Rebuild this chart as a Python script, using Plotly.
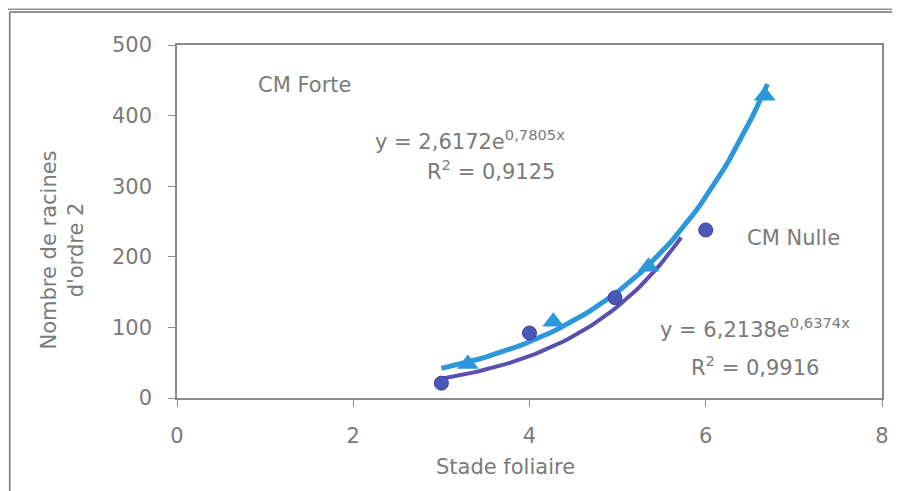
import numpy as np
import plotly.graph_objects as go

# points
stade_nulle = [3.0, 4.0, 4.97, 6.0]
racines_nulle = [21, 92, 142, 238]

stade_forte = [3.3, 4.27, 5.35, 6.67]
racines_forte = [48, 108, 186, 428]

# fitted trend curves, as printed on the chart
fit_a, fit_b = 6.2138, 0.6374      # light blue curve
fit_c, fit_d = 2.6172, 0.7805      # dark curve
x_light = np.linspace(3.0, 6.7, 60)
x_dark = np.linspace(3.0, 5.72, 60)

blue = "#2b98dc"
purple = "#5a4fb0"
grey = "#7a7a7a"
font = "DejaVu Sans"

fig = go.Figure()
fig.add_trace(go.Scatter(x=x_dark, y=fit_c * np.exp(fit_d * x_dark), mode="lines",
                         line=dict(color=purple, width=4), hoverinfo="skip"))
fig.add_trace(go.Scatter(x=x_light, y=fit_a * np.exp(fit_b * x_light), mode="lines",
                         line=dict(color=blue, width=5), hoverinfo="skip"))
fig.add_trace(go.Scatter(x=stade_nulle, y=racines_nulle, mode="markers",
                         marker=dict(symbol="circle", size=14, color="#4b58b8",
                                     line=dict(color="#3a3f9a", width=1))))
fig.add_trace(go.Scatter(x=stade_forte, y=racines_forte, mode="markers",
                         marker=dict(symbol="triangle-up", size=19, color=blue)))

annots = [
    dict(x=1.45, y=443, text="CM Forte"),
    dict(x=3.33, y=365, text="y = 2,6172e<sup>0,7805x</sup>"),
    dict(x=3.56, y=323, text="R<sup>2</sup> = 0,9125"),
    dict(x=7.0, y=227, text="CM Nulle"),
    dict(x=6.56, y=99, text="y = 6,2138e<sup>0,6374x</sup>"),
    dict(x=6.56, y=45, text="R<sup>2</sup> = 0,9916"),
]
for a in annots:
    fig.add_annotation(x=a["x"], y=a["y"], text=a["text"], showarrow=False,
                       font=dict(family=font, size=21, color=grey))

axis = dict(showline=True, linecolor="#8a8a8a", linewidth=1.5, mirror=True,
            showgrid=False, zeroline=False, ticks="outside", ticklen=7,
            tickcolor="#8a8a8a", tickfont=dict(family=font, size=21, color=grey))

fig.update_xaxes(range=[0, 8], tickvals=[0, 2, 4, 6, 8], ticklabelstandoff=11, **axis)
fig.update_yaxes(range=[0, 500], tickvals=[0, 100, 200, 300, 400, 500], ticklabelstandoff=12, **axis)

# axis titles placed as in the scan (y title sits below the plot centre)
fig.add_annotation(xref="paper", yref="paper", x=0.466, y=-0.195, text="Stade foliaire",
                   xanchor="center", yanchor="middle", showarrow=False,
                   font=dict(family=font, size=21, color=grey))
fig.add_annotation(xref="paper", yref="paper", x=-0.163, y=0.418,
                   text="Nombre de racines<br>d'ordre 2", textangle=-90,
                   xanchor="center", yanchor="middle", showarrow=False,
                   font=dict(family=font, size=21, color=grey))

# scanned frame around the chart
fig.add_shape(type="line", xref="paper", yref="paper", x0=-0.24, x1=1.03, y0=1.1015, y1=1.1015,
              line=dict(color="#909090", width=1.5))
fig.add_shape(type="line", xref="paper", yref="paper", x0=-0.2373, x1=1.03, y0=1.0935, y1=1.0935,
              line=dict(color="#707070", width=1.5))
fig.add_shape(type="line", xref="paper", yref="paper", x0=-0.2373, x1=-0.2373, y0=-0.3, y1=1.0935,
              line=dict(color="#707070", width=1.5))

# page body adds an 8px offset, so the figure is 8px smaller than the window
fig.update_layout(width=892, height=483, plot_bgcolor="white", paper_bgcolor="white",
                  showlegend=False, margin=dict(l=169, r=11, t=37, b=93))

fig.write_html("out.html")
